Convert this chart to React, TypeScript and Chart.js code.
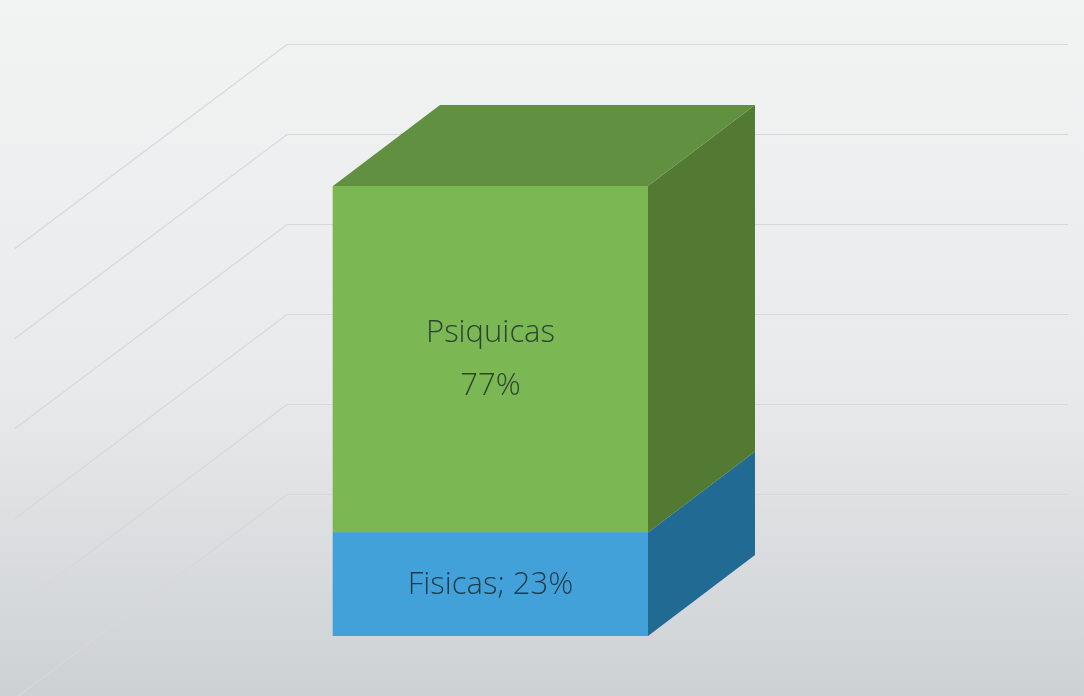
import React, { useEffect, useRef } from "react";
import { Chart, registerables } from "chart.js";

Chart.register(...registerables);

const categories = ["Lesiones"];
const fisicasValues = [23];
const psiquicasValues = [77];
const gridValues = [0, 20, 40, 60, 80, 100];

const BAR_DX = 107;
const BAR_DY = -81;
const WALL_DX = 189;
const WALL_DY = -142;
const WALL_RIGHT = 1068;
const FLOOR_LEN_X = 272;
const FLOOR_SLOPE = 0.75;

const frontColors = ["#42a1d8", "#7bb752"];
const sideColors = ["#216a94", "#537a32"];
const topColors = ["#2f82b3", "#609040"];
const textColors = ["#1f3b4c", "#2c4433"];

const threeD = {
  id: "threeD",
  beforeDraw(chart: any) {
    const { ctx, width, height } = chart;
    const g = ctx.createLinearGradient(0, 0, 0, height);
    g.addColorStop(0, "#f2f3f3");
    g.addColorStop(0.55, "#e9eaeb");
    g.addColorStop(1, "#cdd1d4");
    ctx.save();
    ctx.fillStyle = g;
    ctx.fillRect(0, 0, width, height);
    ctx.restore();
  },
  beforeDatasetsDraw(chart: any) {
    const { ctx, chartArea } = chart;
    const ys = chart.scales.y;
    const wallLeft = chartArea.left + WALL_DX;
    ctx.save();
    ctx.strokeStyle = "#d6d8da";
    ctx.lineWidth = 1.2;
    gridValues.forEach((v) => {
      const y = Math.round(ys.getPixelForValue(v) + WALL_DY) + 0.5;
      ctx.beginPath();
      ctx.moveTo(WALL_RIGHT, y);
      ctx.lineTo(wallLeft, y);
      ctx.lineTo(wallLeft - FLOOR_LEN_X, y + FLOOR_LEN_X * FLOOR_SLOPE);
      ctx.stroke();
    });
    ctx.restore();
  },
  afterDatasetsDraw(chart: any) {
    const { ctx } = chart;
    const n = chart.data.datasets.length;
    ctx.save();
    for (let d = 0; d < n; d++) {
      const meta = chart.getDatasetMeta(d);
      meta.data.forEach((el: any) => {
        const { x, y, base, width } = el.getProps(["x", "y", "base", "width"], true);
        const left = x - width / 2;
        const right = x + width / 2;
        ctx.fillStyle = sideColors[d];
        ctx.beginPath();
        ctx.moveTo(right, y);
        ctx.lineTo(right + BAR_DX, y + BAR_DY);
        ctx.lineTo(right + BAR_DX, base + BAR_DY);
        ctx.lineTo(right, base);
        ctx.closePath();
        ctx.fill();
        if (d === n - 1) {
          ctx.fillStyle = topColors[d];
          ctx.beginPath();
          ctx.moveTo(left, y);
          ctx.lineTo(right, y);
          ctx.lineTo(right + BAR_DX, y + BAR_DY);
          ctx.lineTo(left + BAR_DX, y + BAR_DY);
          ctx.closePath();
          ctx.fill();
        }
      });
    }
    ctx.font = '300 31px "Open Sans", sans-serif';
    ctx.textAlign = "center";
    ctx.textBaseline = "middle";
    for (let d = 0; d < n; d++) {
      const ds = chart.data.datasets[d];
      const meta = chart.getDatasetMeta(d);
      meta.data.forEach((el: any, i: number) => {
        const { x, y, base } = el.getProps(["x", "y", "base"], true);
        const cy = (y + base) / 2;
        const val = ds.data[i];
        ctx.fillStyle = textColors[d];
        if (d === 0) {
          ctx.fillText(`${ds.label}; ${val}%`, x, cy + 1);
        } else {
          ctx.fillText(ds.label, x, cy - 26);
          ctx.fillText(`${val}%`, x, cy + 27);
        }
      });
    }
    ctx.restore();
  },
};

export default function App() {
  const ref = useRef<HTMLCanvasElement | null>(null);
  useEffect(() => {
    if (!ref.current) return;
    const chart = new Chart(ref.current, {
      type: "bar",
      data: {
        labels: categories,
        datasets: [
          { label: "Fisicas", data: fisicasValues, backgroundColor: frontColors[0], borderWidth: 0 },
          { label: "Psiquicas", data: psiquicasValues, backgroundColor: frontColors[1], borderWidth: 0 },
        ],
      },
      options: {
        responsive: false,
        animation: false,
        layout: { padding: { left: 98, right: 201, top: 186, bottom: 60 } },
        plugins: { legend: { display: false }, tooltip: { enabled: false } },
        datasets: { bar: { barThickness: 315 } },
        scales: {
          x: { stacked: true, display: false },
          y: { stacked: true, display: false, min: 0, max: 100 },
        },
      },
      plugins: [threeD],
    });
    return () => chart.destroy();
  }, []);
  return (
    <div style={{ position: "fixed", left: 0, top: 0, width: 1084, height: 696 }}>
      <canvas ref={ref} width={1084} height={696} style={{ display: "block" }} />
    </div>
  );
}
